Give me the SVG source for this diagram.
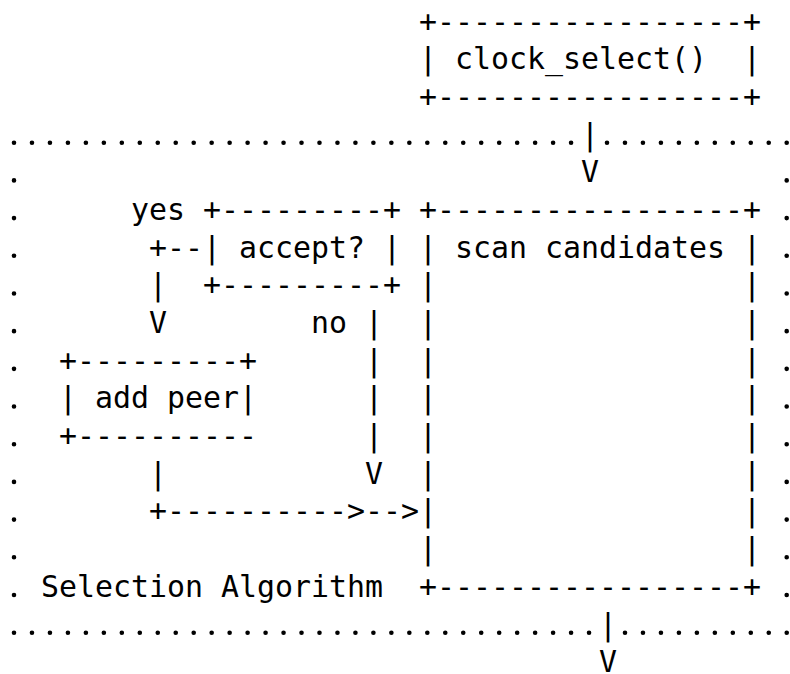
<svg xmlns="http://www.w3.org/2000/svg" width="790" height="674" viewBox="0 0 790 674">
<style>
text{font-family:"DejaVu Sans Mono","Liberation Mono",monospace;font-size:29.9px;fill:#000;white-space:pre}
.dots{stroke:#000;stroke-width:4.6;stroke-linecap:round;fill:none}
.h{stroke-dasharray:0 17.97}
.v{stroke-dasharray:0 37.69}
</style>
<rect width="790" height="674" fill="#fff"/>
<g id="selection-algorithm">
<path class="dots h" d="M14 142.7H571.6M607 142.7H787.2M14 632.7H589.5M625 632.7H787.2"/>
<path class="dots v" d="M14 180.4V595.5M786.7 180.4V595.5"/>
<text x="41" y="596.85" xml:space="preserve">Selection Algorithm</text>
</g>
<g id="clock-select">
<text x="419" y="31.5" xml:space="preserve">+-----------------+</text>
<text x="419" y="69.19" xml:space="preserve">| clock_select()  |</text>
<text x="419" y="106.88" xml:space="preserve">+-----------------+</text>
</g>
<g id="accept">
<text x="203" y="219.95" xml:space="preserve">+---------+</text>
<text x="203" y="257.64" xml:space="preserve">| accept? |</text>
<text x="203" y="295.33" xml:space="preserve">+---------+</text>
</g>
<g id="add-peer">
<text x="59" y="370.71" xml:space="preserve">+---------+</text>
<text x="59" y="408.4" xml:space="preserve">| add peer|</text>
<text x="59" y="446.09" xml:space="preserve">+----------</text>
</g>
<g id="scan-candidates">
<text x="419" y="219.95" xml:space="preserve">+-----------------+</text>
<text x="419" y="257.64" xml:space="preserve">| scan candidates |</text>
<text x="419" y="295.33" xml:space="preserve">|                 |</text>
<text x="419" y="333.02" xml:space="preserve">|                 |</text>
<text x="419" y="370.71" xml:space="preserve">|                 |</text>
<text x="419" y="408.4" xml:space="preserve">|                 |</text>
<text x="419" y="446.09" xml:space="preserve">|                 |</text>
<text x="419" y="483.78" xml:space="preserve">|                 |</text>
<text x="419" y="521.47" xml:space="preserve">|                 |</text>
<text x="419" y="559.16" xml:space="preserve">|                 |</text>
<text x="419" y="596.85" xml:space="preserve">+-----------------+</text>
</g>
<g id="connectors">
<text x="581" y="144.57">|</text>
<text x="581" y="182.26">V</text>
<text x="131" y="219.95">yes</text>
<text x="149" y="257.64" xml:space="preserve">+--</text>
<text x="149" y="295.33">|</text>
<text x="149" y="333.02">V</text>
<text x="311" y="333.02" xml:space="preserve">no |</text>
<text x="365" y="370.71">|</text>
<text x="365" y="408.4">|</text>
<text x="365" y="446.09">|</text>
<text x="149" y="483.78">|</text>
<text x="365" y="483.78">V</text>
<text x="149" y="521.47" xml:space="preserve">+----------&gt;--&gt;</text>
<text x="599" y="634.54">|</text>
<text x="599" y="672.23">V</text>
</g>
</svg>
